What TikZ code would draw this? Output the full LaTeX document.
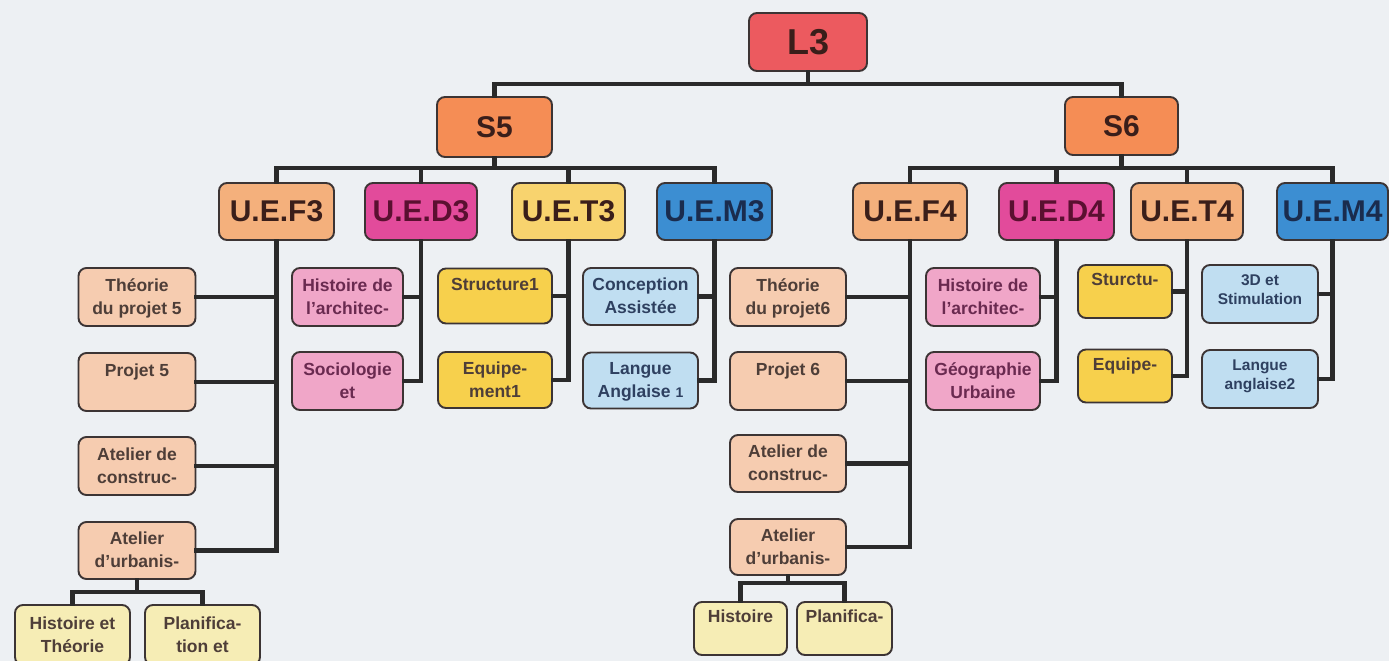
\documentclass[tikz,border=0pt]{standalone}
\usepackage{fontspec}
\setmainfont{Liberation Sans}

% fills
\definecolor{bgc}{HTML}{EDF0F3}
\definecolor{linec}{HTML}{2A2A2A}
\definecolor{edgec}{HTML}{3C3434}
\definecolor{cL}{HTML}{EC5A5F}
\definecolor{cS}{HTML}{F58D55}
\definecolor{cUF}{HTML}{F4B07C}
\definecolor{cUD}{HTML}{E24B9B}
\definecolor{cUT}{HTML}{F8D36E}
\definecolor{cUM}{HTML}{3C8ED2}
\definecolor{cF}{HTML}{F6CCB0}
\definecolor{cD}{HTML}{F0A6C8}
\definecolor{cT}{HTML}{F7D04C}
\definecolor{cM}{HTML}{C0DEF1}
\definecolor{cA}{HTML}{F6EDB5}
% text colours
\definecolor{tDark}{HTML}{3A1E1A}
\definecolor{tMar}{HTML}{5A1030}
\definecolor{tNavy}{HTML}{1A2C4E}
\definecolor{tLeaf}{HTML}{4E3E38}
\definecolor{tPink}{HTML}{6A2A50}
\definecolor{tBlue}{HTML}{2E4060}

% top-aligned two-line label inside a leaf box
\newcommand{\lt}[2]{\parbox[c][44pt][t]{#1pt}{\centering\strut #2}}

\tikzset{
  box/.style={draw=edgec, line width=1.9pt, rounded corners=8pt, inner sep=0pt},
  head/.style={box, minimum width=#1, minimum height=58pt,
    font=\fontsize{30}{36}\selectfont\bfseries, text=tDark},
  leaf/.style={box, minimum width=#1, minimum height=57pt,
    font=\fontsize{17.5}{23}\selectfont\bfseries, text=tLeaf},
  conn/.style={draw=linec, line width=4.5pt, line cap=rect}
}

\begin{document}
\begin{tikzpicture}[x=1pt, y=-1pt]
\fill[bgc] (0,0) rectangle (1389,661);
\useasboundingbox (0,0) rectangle (1389,661);

% ---------- level 1 and 2 ----------
\node[head=118pt, fill=cL, font=\fontsize{36}{40}\selectfont\bfseries, text=tDark] (L3) at (808,42) {L3};
\node[head=115pt, fill=cS, minimum height=60pt] (S5) at (494.5,127) {S5};
\node[head=113pt, fill=cS] (S6) at (1121.5,126) {S6};

\node[head=115pt, fill=cUF, minimum height=57pt] (UEF3) at (276.5,211.5) {U.E.F3};
\node[head=112pt, fill=cUD, minimum height=57pt, text=tMar] (UED3) at (421,211.5) {U.E.D3};
\node[head=113pt, fill=cUT, minimum height=57pt] (UET3) at (568.5,211.5) {U.E.T3};
\node[head=115pt, fill=cUM, minimum height=57pt, text=tNavy] (UEM3) at (714.5,211.5) {U.E.M3};
\node[head=114pt, fill=cUF, minimum height=57pt] (UEF4) at (910,211.5) {U.E.F4};
\node[head=115pt, fill=cUD, minimum height=57pt, text=tMar] (UED4) at (1056.5,211.5) {U.E.D4};
\node[head=112pt, fill=cUF, minimum height=57pt] (UET4) at (1187,211.5) {U.E.T4};
\node[head=111pt, fill=cUM, minimum height=57pt, text=tNavy] (UEM4) at (1332.5,211.5) {U.E.M4};

% ---------- S5 modules ----------
\node[leaf=117pt, fill=cF, minimum height=58pt] (th5) at (137,297) {\lt{115}{Théorie\\du projet 5}};
\node[leaf=117pt, fill=cF, minimum height=58pt] (pr5) at (137,382) {\lt{115}{Projet 5}};
\node[leaf=117pt, fill=cF, minimum height=58pt] (ac5) at (137,466) {\lt{115}{Atelier de\\construc-}};
\node[leaf=117pt, fill=cF] (au5) at (137,550.5) {\lt{115}{Atelier\\d'urbanis-}};

\node[leaf=115pt, fill=cA, minimum height=60pt] (ht5) at (72.5,635) {\lt{113}{Histoire et\\Théorie}};
\node[leaf=115pt, fill=cA, minimum height=60pt] (pl5) at (202.5,635) {\lt{113}{Planifica-\\tion et}};

\node[leaf=111pt, fill=cD, minimum height=58pt, text=tPink] (ha3) at (347.5,297) {\lt{110}{Histoire de\\l'architec-}};
\node[leaf=111pt, fill=cD, minimum height=58pt, text=tPink] (so3) at (347.5,381) {\lt{110}{Sociologie\\et}};

\node[leaf=114pt, fill=cT, minimum height=55pt] (st3) at (495,296) {\lt{112}{Structure1}};
\node[leaf=114pt, fill=cT, minimum height=56pt] (eq3) at (495,380) {\lt{112}{Equipe-\\ment1}};

\node[leaf=115pt, fill=cM, minimum height=57pt, text=tBlue] (ca3) at (640.5,296.5) {\lt{114}{Conception\\Assistée}};
\node[leaf=115pt, fill=cM, minimum height=56pt, text=tBlue] (la3) at (640.5,380.5) {\lt{114}{Langue\\Anglaise {\fontsize{14}{14}\selectfont 1}}};

% ---------- S6 modules ----------
\node[leaf=116pt, fill=cF, minimum height=58pt] (th6) at (788,297) {\lt{115}{Théorie\\du projet6}};
\node[leaf=116pt, fill=cF, minimum height=58pt] (pr6) at (788,381) {\lt{115}{Projet 6}};
\node[leaf=116pt, fill=cF] (ac6) at (788,463.5) {\lt{115}{Atelier de\\construc-}};
\node[leaf=116pt, fill=cF, minimum height=56pt] (au6) at (788,547) {\lt{115}{Atelier\\d'urbanis-}};

\node[leaf=93pt, fill=cA, minimum height=53pt] (ht6) at (740.5,628.5) {\lt{92}{Histoire}};
\node[leaf=95pt, fill=cA, minimum height=53pt] (pl6) at (844.5,628.5) {\lt{94}{Planifica-}};

\node[leaf=114pt, fill=cD, minimum height=58pt, text=tPink] (ha4) at (983,297) {\lt{113}{Histoire de\\l'architec-}};
\node[leaf=114pt, fill=cD, minimum height=58pt, text=tPink] (ge4) at (983,381) {\lt{114}{Géographie\\Urbaine}};

\node[leaf=94pt, fill=cT, minimum height=53pt] (st4) at (1125,291.5) {\lt{92}{Sturctu-}};
\node[leaf=94pt, fill=cT, minimum height=53pt] (eq4) at (1125,376) {\lt{92}{Equipe-}};

\node[leaf=116pt, fill=cM, minimum height=58pt, text=tBlue, font=\fontsize{15.5}{19}\selectfont\bfseries] (sd4) at (1260,294) {\lt{114}{3D et\\Stimulation}};
\node[leaf=116pt, fill=cM, minimum height=58pt, text=tBlue, font=\fontsize{15.5}{19}\selectfont\bfseries] (la4) at (1260,379) {\lt{114}{Langue\\anglaise2}};

% ---------- connectors ----------
\coordinate (b0) at (808,84);
\coordinate (b5) at (494.5,168);
\coordinate (b6) at (1121.5,168);
\coordinate (sb5) at (137,592);
\coordinate (sb6) at (788,583);

\draw[conn] (L3.south) -- (b0);
\draw[conn] (S5.north) |- (b0) -| (S6.north);

\draw[conn] (S5.south) -- (b5);
\draw[conn] (UEF3.north) |- (b5) -| (UEM3.north);
\draw[conn] (UED3.north) -- (UED3.north |- b5);
\draw[conn] (UET3.north) -- (UET3.north |- b5);

\draw[conn] (S6.south) -- (b6);
\draw[conn] (UEF4.north) |- (b6) -| (UEM4.north);
\draw[conn] (UED4.north) -- (UED4.north |- b6);
\draw[conn] (UET4.north) -- (UET4.north |- b6);

\foreach \p/\c in {UEF3/th5, UEF3/pr5, UEF3/ac5, UEF3/au5,
                   UED3/ha3, UED3/so3, UET3/st3, UET3/eq3,
                   UEM3/ca3, UEM3/la3,
                   UEF4/th6, UEF4/pr6, UEF4/ac6, UEF4/au6,
                   UED4/ha4, UED4/ge4, UET4/st4, UET4/eq4,
                   UEM4/sd4, UEM4/la4}
  \draw[conn] (\p.south) |- (\c.east);

\draw[conn] (au5.south) -- (sb5);
\draw[conn] (ht5.north) |- (sb5) -| (pl5.north);
\draw[conn] (au6.south) -- (sb6);
\draw[conn] (ht6.north) |- (sb6) -| (pl6.north);
\end{tikzpicture}
\end{document}
